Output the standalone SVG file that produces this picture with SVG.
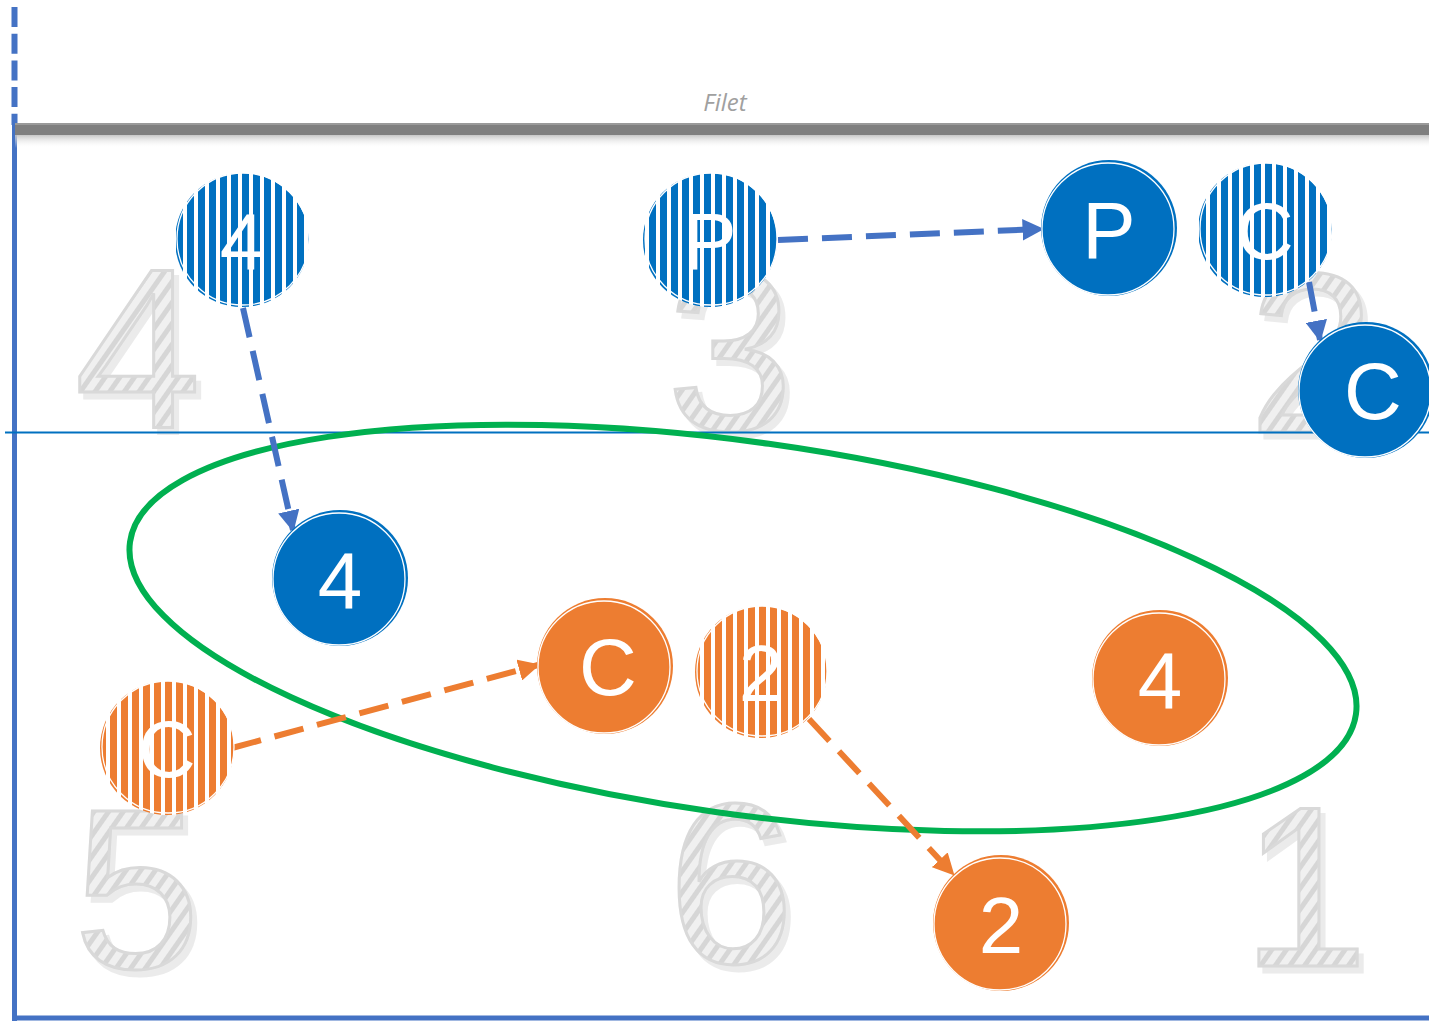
<svg xmlns="http://www.w3.org/2000/svg" width="1429" height="1021" viewBox="0 0 1429 1021">
<defs>
<pattern id="stripeBlue" patternUnits="userSpaceOnUse" width="11" height="10">
<rect width="11" height="10" fill="#ffffff"/><rect width="7" height="10" fill="#0070C0"/>
</pattern>
<pattern id="stripeOrange" patternUnits="userSpaceOnUse" width="11" height="10">
<rect width="11" height="10" fill="#ffffff"/><rect width="7" height="10" fill="#ED7D31"/>
</pattern>
<pattern id="rope" patternUnits="userSpaceOnUse" width="12" height="12" patternTransform="rotate(35)">
<rect width="12" height="12" fill="#F0F0F0"/><rect width="5" height="12" fill="#D6D6D6"/>
</pattern>
<linearGradient id="netShadow" x1="0" y1="0" x2="0" y2="1">
<stop offset="0" stop-color="#BDBDBD"/><stop offset="1" stop-color="#ffffff" stop-opacity="0"/>
</linearGradient>
<filter id="zsh" x="-20%" y="-20%" width="140%" height="140%">
<feOffset in="SourceAlpha" dx="5" dy="6" result="o"/>
<feFlood flood-color="#EBEBEB"/>
<feComposite in2="o" operator="in" result="s"/>
<feMerge><feMergeNode in="s"/><feMergeNode in="SourceGraphic"/></feMerge>
</filter>
<marker id="arrB" viewBox="0 0 10 10" refX="9" refY="5" markerWidth="3.6" markerHeight="3.6" orient="auto" markerUnits="strokeWidth">
<path d="M0,0 L10,5 L0,10 z" fill="#4472C4"/>
</marker>
<marker id="arrO" viewBox="0 0 10 10" refX="9" refY="5" markerWidth="3.6" markerHeight="3.6" orient="auto" markerUnits="strokeWidth">
<path d="M0,0 L10,5 L0,10 z" fill="#ED7D31"/>
</marker>
<style>
.zone{font-family:"Liberation Sans",Arial,sans-serif;font-size:228px;text-anchor:middle;fill:url(#rope);stroke:#D9D9D9;stroke-width:3;filter:url(#zsh);}
.lbl{font-family:"Liberation Sans",Arial,sans-serif;font-size:80px;text-anchor:middle;fill:#ffffff;}
.sb{fill:url(#stripeBlue);}
.so{fill:url(#stripeOrange);}
.fb{fill:#0070C0;}
.fo{fill:#ED7D31;}
.edge{fill:none;stroke:#ffffff;stroke-width:1.3;}
.cb{fill:none;stroke:#4472C4;stroke-width:6;stroke-dasharray:30 14;marker-end:url(#arrB);}
.co{fill:none;stroke:#ED7D31;stroke-width:6;stroke-dasharray:30 14;marker-end:url(#arrO);}
</style>
</defs>
<rect width="1429" height="1021" fill="#ffffff"/>

<!-- court zone numbers -->
<g id="zones">
<text class="zone" x="138" y="428">4</text>
<text class="zone" x="730" y="430">3</text>
<text class="zone" x="1312" y="432">2</text>
<text class="zone" x="137" y="968">5</text>
<text class="zone" x="731" y="963">6</text>
<text class="zone" x="1305" y="966">1</text>
</g>

<!-- court lines -->
<g id="court">
<line x1="14.5" y1="7" x2="14.5" y2="125" stroke="#4472C4" stroke-width="6" stroke-dasharray="20 6.7"/>
<line x1="14.5" y1="118" x2="14.5" y2="1021" stroke="#4472C4" stroke-width="5"/>
<line x1="14" y1="1018" x2="1429" y2="1018" stroke="#4472C4" stroke-width="5"/>
<line x1="5" y1="432.5" x2="1429" y2="432.5" stroke="#0070C0" stroke-width="2"/>
<rect x="15" y="134" width="1414" height="14" fill="url(#netShadow)"/>
<rect x="15" y="123" width="1414" height="12" fill="#7F7F7F"/>
<rect x="15" y="123" width="1414" height="2" fill="#9A9A9A"/>
<text x="725" y="111" font-family="'Open Sans','Liberation Sans',sans-serif" font-style="italic" font-size="24" fill="#A0A0A0" text-anchor="middle">Filet</text>
</g>

<ellipse id="zone-ellipse" cx="743" cy="628" rx="619" ry="186" transform="rotate(8 743 628)" fill="none" stroke="#00B050" stroke-width="6"/>

<!-- connectors -->
<g id="connectors">
<line class="cb" x1="243" y1="308" x2="293" y2="530"/>
<line class="cb" x1="778" y1="240" x2="1042" y2="229"/>
<line class="cb" x1="1309" y1="282" x2="1320" y2="340"/>
<line class="co" x1="232" y1="748" x2="538" y2="665"/>
<line class="co" x1="809" y1="719" x2="953" y2="874"/>
</g>

<!-- nodes -->
<g id="n-blue-4-start"><circle class="sb" cx="242" cy="240" r="67"/><circle class="edge" cx="243" cy="239" r="66"/><text class="lbl" x="242" y="269">4</text></g>
<g id="n-blue-P-start"><circle class="sb" cx="710" cy="240" r="67"/><circle class="edge" cx="711" cy="239" r="66"/><text class="lbl" x="710" y="269">P</text></g>
<g id="n-blue-P"><circle class="fb" cx="1109" cy="228" r="68"/><circle class="edge" cx="1108" cy="229" r="66"/><text class="lbl" x="1109" y="258">P</text></g>
<g id="n-blue-C-start"><circle class="sb" cx="1265" cy="230" r="67"/><circle class="edge" cx="1266" cy="229" r="66"/><text class="lbl" x="1265" y="259">C</text></g>
<g id="n-blue-C"><circle class="fb" cx="1366" cy="390" r="68"/><circle class="edge" cx="1365" cy="391" r="66"/><text class="lbl" x="1373" y="419">C</text></g>
<g id="n-blue-4"><circle class="fb" cx="340" cy="578" r="68"/><circle class="edge" cx="339" cy="579" r="66"/><text class="lbl" x="340" y="608">4</text></g>
<g id="n-orange-C"><circle class="fo" cx="605" cy="666" r="68"/><circle class="edge" cx="604" cy="667" r="66"/><text class="lbl" x="608" y="695">C</text></g>
<g id="n-orange-2-start"><circle class="so" cx="761" cy="672" r="66"/><circle class="edge" cx="762" cy="671" r="65"/><text class="lbl" x="761" y="701">2</text></g>
<g id="n-orange-4"><circle class="fo" cx="1160" cy="678" r="68"/><circle class="edge" cx="1159" cy="679" r="66"/><text class="lbl" x="1160" y="708">4</text></g>
<g id="n-orange-C-start"><circle class="so" cx="167" cy="748" r="67"/><circle class="edge" cx="168" cy="747" r="66"/><text class="lbl" x="167" y="777">C</text></g>
<g id="n-orange-2"><circle class="fo" cx="1001" cy="923" r="68"/><circle class="edge" cx="1000" cy="924" r="66"/><text class="lbl" x="1001" y="953">2</text></g>
</svg>
